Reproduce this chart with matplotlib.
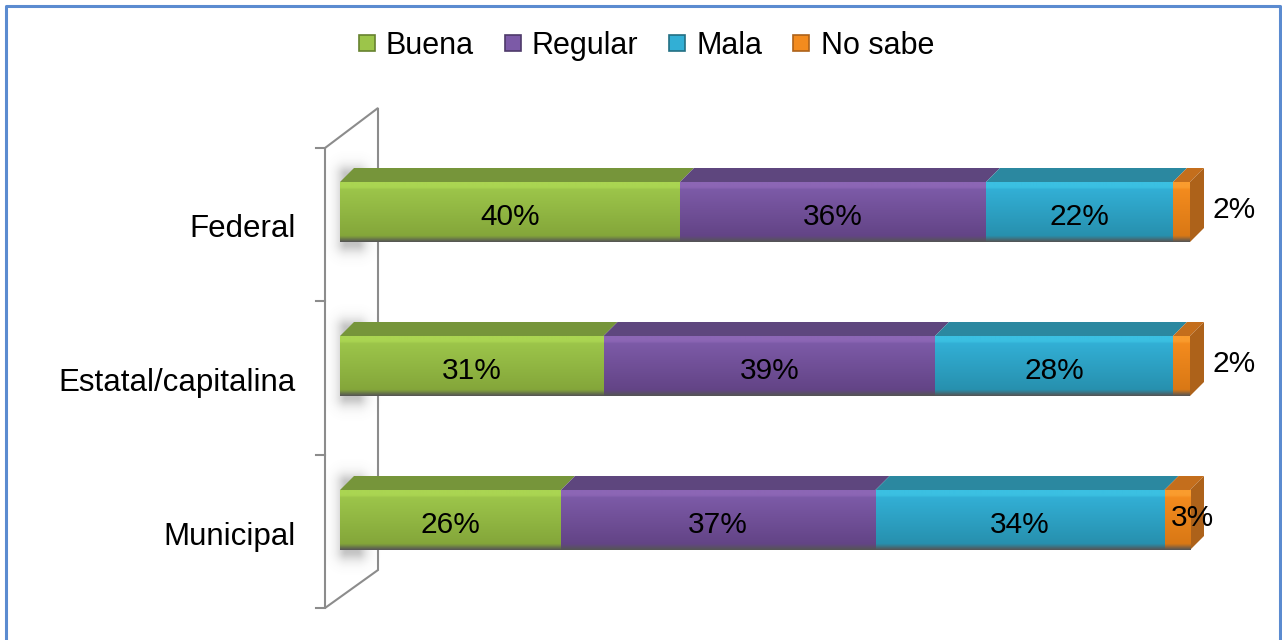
import numpy as np
import matplotlib
matplotlib.use("Agg")
import matplotlib.pyplot as plt
from matplotlib.patches import Polygon
from matplotlib.lines import Line2D

plt.rcParams['font.family'] = ['Liberation Sans', 'DejaVu Sans']

# data
categories = ["Federal", "Estatal/capitalina", "Municipal"]
series = ["Buena", "Regular", "Mala", "No sabe"]
buena = [40, 31, 26]
regular = [36, 39, 37]
mala = [22, 28, 34]
no_sabe = [2, 2, 3]
values = [buena, regular, mala, no_sabe]

# styles: (top highlight, mid, bottom, top face, side face)
styles = {
    "Buena":   ("#aad552", "#9cc54a", "#84a63a", "#76953a", "#66822f"),
    "Regular": ("#8c66b5", "#7c5aa7", "#634486", "#5e467e", "#4e3a6a"),
    "Mala":    ("#3bc0e2", "#32afd5", "#2790ae", "#2b88a0", "#236f83"),
    "No sabe": ("#fa9c2e", "#f38b1e", "#d97815", "#c46e1c", "#ad621a"),
}

W, H = 1282, 640
fig = plt.figure(figsize=(W / 100, H / 100), dpi=100)

# axes: x 0..100 spans pixels 340..1190, one category = 154 px
ax = fig.add_axes([340 / W, 1 - 597 / H, 850 / W, 462 / H])
ax.set_xlim(0, 100)
ax.set_ylim(2.5, -0.5)
ax.axis("off")

PX = 100 / 850      # data units per pixel (x)
PY = 1 / 154        # data units per pixel (y)
dx, dy = 14 * PX, -14 * PY
bh = 60 * PY
ypos = np.arange(len(categories))

# back wall
wall_col = "#8c8c8c"
wx0, wx1 = -15 * PX, 38 * PX
wy_top0, wy_bot0 = -64 * PY, 396 * PY
wy_top1, wy_bot1 = -104 * PY, 358 * PY
ax.add_patch(Polygon([(wx0, wy_top0), (wx1, wy_top1), (wx1, wy_bot1), (wx0, wy_bot0)],
                     closed=True, facecolor="white", edgecolor=wall_col, lw=1.5,
                     clip_on=False, zorder=0))
for k in range(len(categories) + 1):
    yt = wy_top0 + k * (wy_bot0 - wy_top0) / len(categories)
    ax.plot([wx0 - 9 * PX, wx0], [yt, yt], color=wall_col, lw=1.5, clip_on=False, zorder=0)

# soft shadows of the bars on the wall
gx = np.linspace(-14, 44, 120)
gy = np.linspace(-50, 110, 240)
GX, GY = np.meshgrid(gx, gy)
ddx = np.maximum(np.maximum(6 - GX, GX - 18), 0)
ddy = np.maximum(np.maximum(-8 - GY, GY - 62), 0)
dist = np.hypot(ddx, ddy)
shadow = np.zeros(GX.shape + (4,))
shadow[..., :3] = 0.45
shadow[..., 3] = 0.42 * np.exp(-(dist / 9.0) ** 1.6)
for y in ypos:
    yt = y - bh / 2
    ax.imshow(shadow, aspect="auto", interpolation="bilinear", origin="upper",
              extent=(gx[0] * PX, gx[-1] * PX, yt + gy[-1] * PY, yt + gy[0] * PY),
              zorder=0.5, clip_on=False)

left = np.zeros(len(categories))
for name, vals in zip(series, values):
    vals = np.array(vals, dtype=float)
    c_hi, c_mid, c_lo, c_top, c_side = styles[name]
    bars = ax.barh(ypos, vals, left=left, height=bh, color=c_mid, lw=0, zorder=2)
    grad = matplotlib.colors.LinearSegmentedColormap.from_list(
        name, [(0, c_hi), (0.08, c_hi), (0.12, c_mid), (0.9, c_lo), (1, "#555555")])
    gimg = np.linspace(0, 1, 120).reshape(-1, 1)
    for b, y, l, v in zip(bars, ypos, left, vals):
        ax.imshow(gimg, cmap=grad, aspect="auto", interpolation="bilinear",
                  extent=(l, l + v, y + bh / 2, y - bh / 2), origin="upper", zorder=2.1)
        yt = y - bh / 2
        ax.add_patch(Polygon([(l, yt), (l + v, yt), (l + v + dx, yt + dy), (l + dx, yt + dy)],
                             closed=True, facecolor=c_top, lw=0, zorder=2, clip_on=False))
        if name == series[-1]:
            yb = y + bh / 2
            ax.add_patch(Polygon([(l + v, yt), (l + v + dx, yt + dy), (l + v + dx, yb + dy), (l + v, yb)],
                                 closed=True, facecolor=c_side, lw=0, zorder=2, clip_on=False))
            if v < 3:
                ax.text(l + v + 22 * PX, y - 2 * PY, f"{v:.0f}%", ha="left", va="center",
                        fontsize=21.5, zorder=5)
            else:
                ax.text(l + v / 2 + 15 * PX, y - 2 * PY, f"{v:.0f}%", ha="center", va="center",
                        fontsize=21.5, zorder=5)
        else:
            ax.text(l + v / 2, y + 5 * PY, f"{v:.0f}%", ha="center", va="center",
                    fontsize=21.5, zorder=5)
    left = left + vals

ax.set_xlim(0, 100)
ax.set_ylim(2.5, -0.5)

# category labels
for y, cat in zip(ypos, categories):
    ax.text(-44 * PX, y + 17 * PY, cat, ha="right", va="center", fontsize=22.5, clip_on=False)

# legend
handles = [Line2D([], [], ls="none", marker="s", markersize=11.5,
                  markerfacecolor=styles[s][1], markeredgecolor=styles[s][4], markeredgewidth=1.2)
           for s in series]
fig.legend(handles, series, loc="center", bbox_to_anchor=(646 / W, 1 - 46 / H), ncol=4,
           frameon=False, fontsize=22, handlelength=0.55, handletextpad=0.35,
           columnspacing=1.0, borderpad=0)

# outer frame
frame_col = "#5b8bd0"
fig.add_artist(Line2D([6 / W, 6 / W, 1280 / W, 1280 / W], [0, 1 - 6 / H, 1 - 6 / H, 0],
                      color=frame_col, lw=2.2))

fig.savefig("out.png", dpi=100)
